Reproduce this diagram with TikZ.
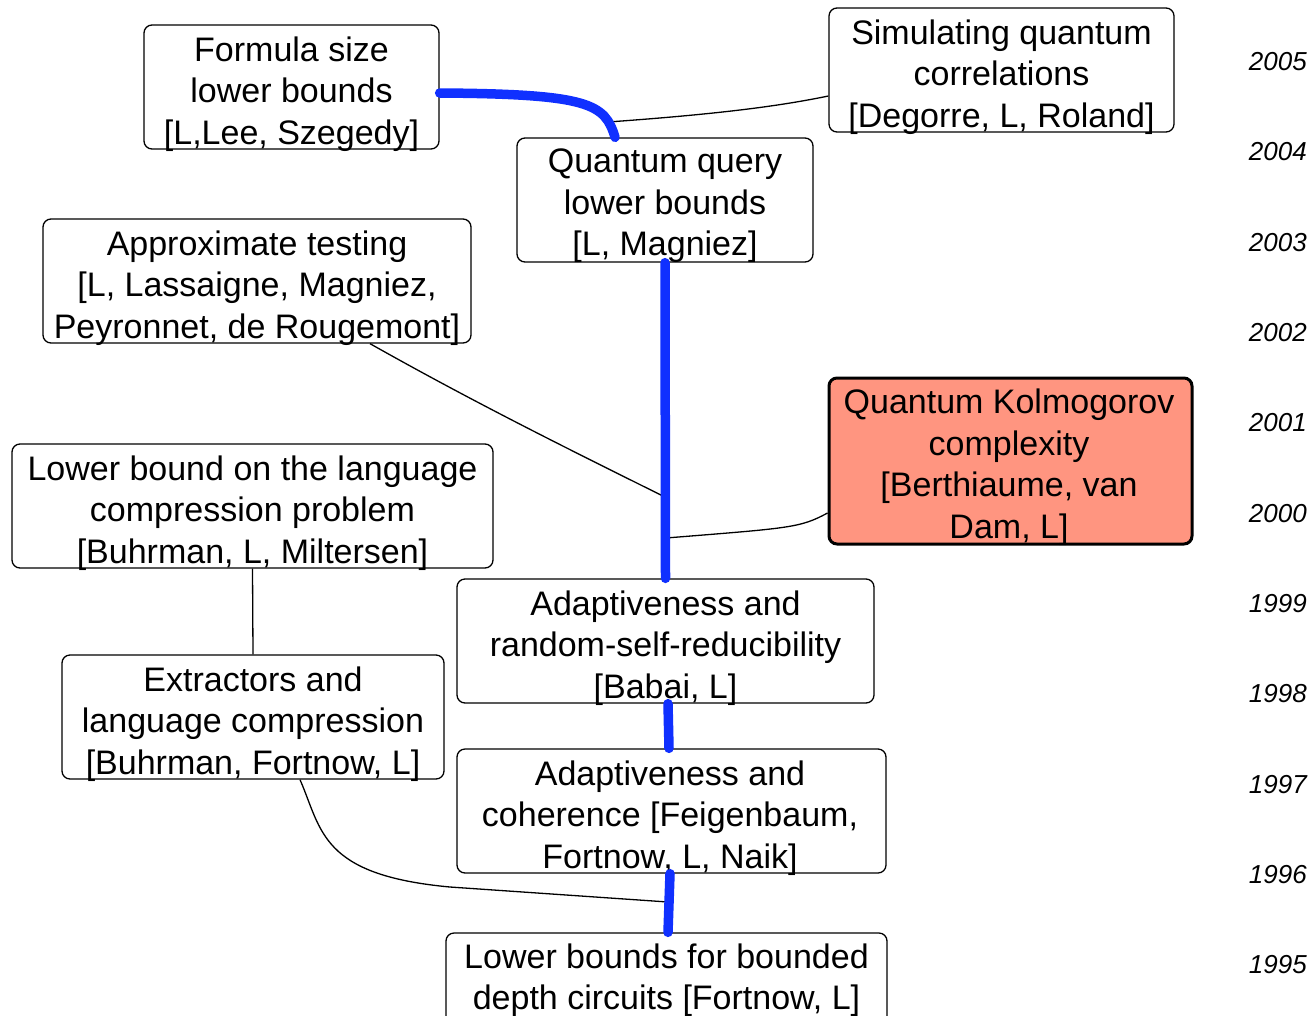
\documentclass[tikz,border=0pt]{standalone}
\usepackage{fontspec}
\setmainfont{Liberation Sans}
\definecolor{qblue}{RGB}{16,48,255}
\definecolor{salmon}{RGB}{255,149,128}
\begin{document}
\begin{tikzpicture}[x=1pt,y=-1pt,
  paper/.style={draw=black, line width=1.3pt, rounded corners=8pt, inner sep=0pt},
  hot/.style={paper, fill=salmon, line width=3pt},
  lbl/.style={align=center, inner sep=0pt, font=\fontsize{34}{41.5}\selectfont},
  yr/.style={anchor=east, inner sep=0pt, font=\fontsize{26}{30}\selectfont\itshape},
  trunk/.style={draw=qblue, line width=9.5pt, line cap=round},
  twig/.style={draw=black, line width=1.3pt}]
\useasboundingbox (0,0) rectangle (1314,1015);

% paper boxes
\node[paper, minimum width=295pt, minimum height=124pt] (formula) at (291.5,87) {};
\node[paper, minimum width=345pt, minimum height=124pt] (sim) at (1001.5,70) {};
\node[paper, minimum width=296pt, minimum height=124pt] (query) at (665,200) {};
\node[paper, minimum width=428pt, minimum height=124pt] (approx) at (257,281) {};
\node[hot, minimum width=363pt, minimum height=166pt] (kolm) at (1010.5,461) {};
\node[paper, minimum width=481pt, minimum height=124pt] (lang) at (252.5,506) {};
\node[paper, minimum width=417pt, minimum height=124pt] (rrsr) at (665.5,641) {};
\node[paper, minimum width=382pt, minimum height=124pt] (ext) at (253,717) {};
\node[paper, minimum width=429pt, minimum height=124pt] (coh) at (671.5,811) {};
\node[paper, minimum width=441pt, minimum height=124pt] (bottom) at (666.5,995) {};

% titles
\node[lbl] (formula-t) at (291.5,94) {Formula size\\lower bounds\\{[L,Lee, Szegedy]}};
\node[lbl] (sim-t) at (1001.5,77) {Simulating quantum\\correlations\\{[Degorre, L, Roland]}};
\node[lbl] (query-t) at (665,206) {Quantum query\\lower bounds\\{[L, Magniez]}};
\node[lbl] (approx-t) at (257,288) {Approximate testing\\{[L, Lassaigne, Magniez,}\\Peyronnet, de Rougemont]};
\node[lbl] (kolm-t) at (1009,467) {Quantum Kolmogorov\\complexity\\{[Berthiaume, van}\\Dam, L]};
\node[lbl] (lang-t) at (252.5,513) {Lower bound on the language\\compression problem\\{[Buhrman, L, Miltersen]}};
\node[lbl] (rrsr-t) at (665.5,648) {Adaptiveness and\\random-self-reducibility\\{[Babai, L]}};
\node[lbl] (ext-t) at (253,724) {Extractors and\\language compression\\{[Buhrman, Fortnow, L]}};
\node[lbl] (coh-t) at (670,818) {Adaptiveness and\\coherence [Feigenbaum,\\Fortnow, L, Naik]};
\node[lbl] (bottom-t) at (666.5,980) {Lower bounds for bounded\\depth circuits [Fortnow, L]};

% year scale
\foreach \yy/\lab in {62/2005,152/2004,243/2003,333/2002,423/2001,514/2000,604/1999,694/1998,785/1997,875/1996,965/1995}
  \node[yr] (y\lab) at (1307,\yy) {\lab};

% junction points on the main line
\coordinate (j1) at (608,122);
\coordinate (j2) at (667,498);
\coordinate (j3) at (666,538);
\coordinate (j4) at (668,902);

% thin influence links
\draw[twig] (j1) .. controls (720,114) and (780,106) .. ([yshift=-26pt]sim.west);
\draw[twig] ([xshift=113pt]approx.south) .. controls (470,400) and (560,445) .. (j2);
\draw[twig] ([yshift=-52pt]kolm.west) .. controls (800,528) and (790,528) .. (j3);
\draw[twig] (lang.south) -- (ext.north);
\draw[twig] ([xshift=47pt]ext.south) .. controls (322,830) and (320,875) .. (450,887) -- (j4);

% main thick chain
\draw[trunk] ([yshift=-6pt]formula.east) .. controls (590,94) and (605,104) .. ([xshift=-50pt]query.north);
\draw[trunk] (query.south) -- (rrsr.north);
\draw[trunk] ([xshift=2.5pt]rrsr.south) -- ([xshift=-2.5pt]coh.north);
\draw[trunk] ([xshift=-1.5pt]coh.south) -- ([xshift=1.5pt]bottom.north);
\end{tikzpicture}
\end{document}
